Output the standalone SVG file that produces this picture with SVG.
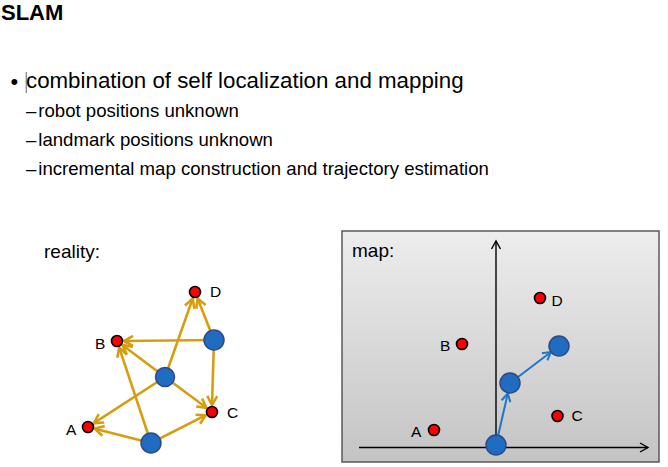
<svg xmlns="http://www.w3.org/2000/svg" width="668" height="467" viewBox="0 0 668 467">
<style>
text{font-family:"Liberation Sans",Arial,sans-serif;fill:#000}
.lbl{font-size:15.5px}
.sub{font-size:18.6px}
.robot{fill:#1F6CC1;stroke:#2E4A86;stroke-width:1.5}
.lm{fill:#FF0000;stroke:#000;stroke-width:1.6}
.oe{stroke:#D69E0F;stroke-width:2.6;fill:none;marker-end:url(#ao)}
.be{stroke:#1F77C8;stroke-width:2;fill:none;marker-end:url(#ab)}
.ax{stroke:#000;stroke-width:1.4;fill:none;marker-end:url(#ak)}
</style>
<defs>
<linearGradient id="mapg" x1="0" y1="0" x2="0" y2="1">
<stop offset="0" stop-color="#EDEDED"/>
<stop offset="1" stop-color="#C4C4C4"/>
</linearGradient>
<marker id="ao" markerUnits="userSpaceOnUse" viewBox="-12 -8 14 16" markerWidth="14" markerHeight="16" refX="0" refY="0" orient="auto">
<path d="M-9,-5 L0,0 L-9,5" fill="none" stroke="#D69E0F" stroke-width="2.6"/>
</marker>
<marker id="ab" markerUnits="userSpaceOnUse" viewBox="-12 -8 14 16" markerWidth="14" markerHeight="16" refX="0" refY="0" orient="auto">
<path d="M-8,-4.5 L0,0 L-8,4.5" fill="none" stroke="#1F77C8" stroke-width="2"/>
</marker>
<marker id="ak" markerUnits="userSpaceOnUse" viewBox="-12 -8 14 16" markerWidth="14" markerHeight="16" refX="0" refY="0" orient="auto">
<path d="M-8,-4.5 L0,0 L-8,4.5" fill="none" stroke="#000" stroke-width="1.4"/>
</marker>
</defs>
<rect width="668" height="467" fill="#fff"/>

<g id="text">
<text x="1" y="20" font-size="22" font-weight="bold">SLAM</text>
<text x="10.5" y="89" font-size="22">•</text>
<line x1="26.3" y1="72" x2="26.3" y2="93" stroke="#888" stroke-width="1.3"/>
<text x="26" y="88" font-size="22.3">combination of self localization and mapping</text>
<text x="26" y="117" class="sub">–</text>
<text x="38.3" y="117" class="sub">robot positions unknown</text>
<text x="26" y="146" class="sub">–</text>
<text x="38.3" y="146" class="sub">landmark positions unknown</text>
<text x="26" y="175" class="sub">–</text>
<text x="38.3" y="175" class="sub">incremental map construction and trajectory estimation</text>
<text x="44" y="258" font-size="19">reality:</text>
</g>

<g id="map-box">
<rect x="342" y="231" width="317" height="231" fill="url(#mapg)" stroke="#595959" stroke-width="1.5"/>
<text x="352" y="257" font-size="19">map:</text>
</g>

<g id="connectors">
<path class="oe" d="M214,340 L197.6,298.5"/>
<path class="oe" d="M214,340 L124,341"/>
<path class="oe" d="M214,340 L212,405"/>
<path class="oe" d="M165,377 L192.7,298.6"/>
<path class="oe" d="M165,377 L122.6,345.2"/>
<path class="oe" d="M165,377 L93.9,423.2"/>
<path class="oe" d="M165,377 L206.4,407.8"/>
<path class="oe" d="M151,443 L119.2,347.6"/>
<path class="oe" d="M151,443 L94.8,428.7"/>
<path class="oe" d="M151,443 L205.8,415.2"/>
<path class="ax" d="M496,448 L496,241"/>
<path class="ax" d="M359,447.5 L648,447.5"/>
<path class="be" d="M498.2,435.3 L507.8,393.5"/>
<path class="be" d="M518,377 L551,352"/>
</g>

<g id="real-D"><circle class="lm" cx="195" cy="292" r="5.5"/><text class="lbl" x="210" y="297">D</text></g>
<g id="real-B"><circle class="lm" cx="117" cy="341" r="5.5"/><text class="lbl" x="95" y="349">B</text></g>
<g id="real-C"><circle class="lm" cx="212" cy="412" r="5.5"/><text class="lbl" x="227" y="418">C</text></g>
<g id="real-A"><circle class="lm" cx="88" cy="427" r="5.5"/><text class="lbl" x="66" y="435">A</text></g>
<g id="real-robot1"><circle class="robot" cx="214" cy="340" r="10"/></g>
<g id="real-robot2"><circle class="robot" cx="165" cy="377" r="9.5"/></g>
<g id="real-robot3"><circle class="robot" cx="151" cy="443" r="10"/></g>

<g id="map-D"><circle class="lm" cx="540" cy="298" r="5.5"/><text class="lbl" x="551.5" y="306">D</text></g>
<g id="map-B"><circle class="lm" cx="462" cy="344" r="5.5"/><text class="lbl" x="440" y="351">B</text></g>
<g id="map-C"><circle class="lm" cx="557.5" cy="416" r="5.5"/><text class="lbl" x="571.5" y="421">C</text></g>
<g id="map-A"><circle class="lm" cx="434" cy="430" r="5.5"/><text class="lbl" x="411" y="437">A</text></g>
<g id="map-robot1"><circle class="robot" cx="496" cy="445" r="10"/></g>
<g id="map-robot2"><circle class="robot" cx="510" cy="383" r="10"/></g>
<g id="map-robot3"><circle class="robot" cx="559" cy="346" r="10"/></g>
</svg>
